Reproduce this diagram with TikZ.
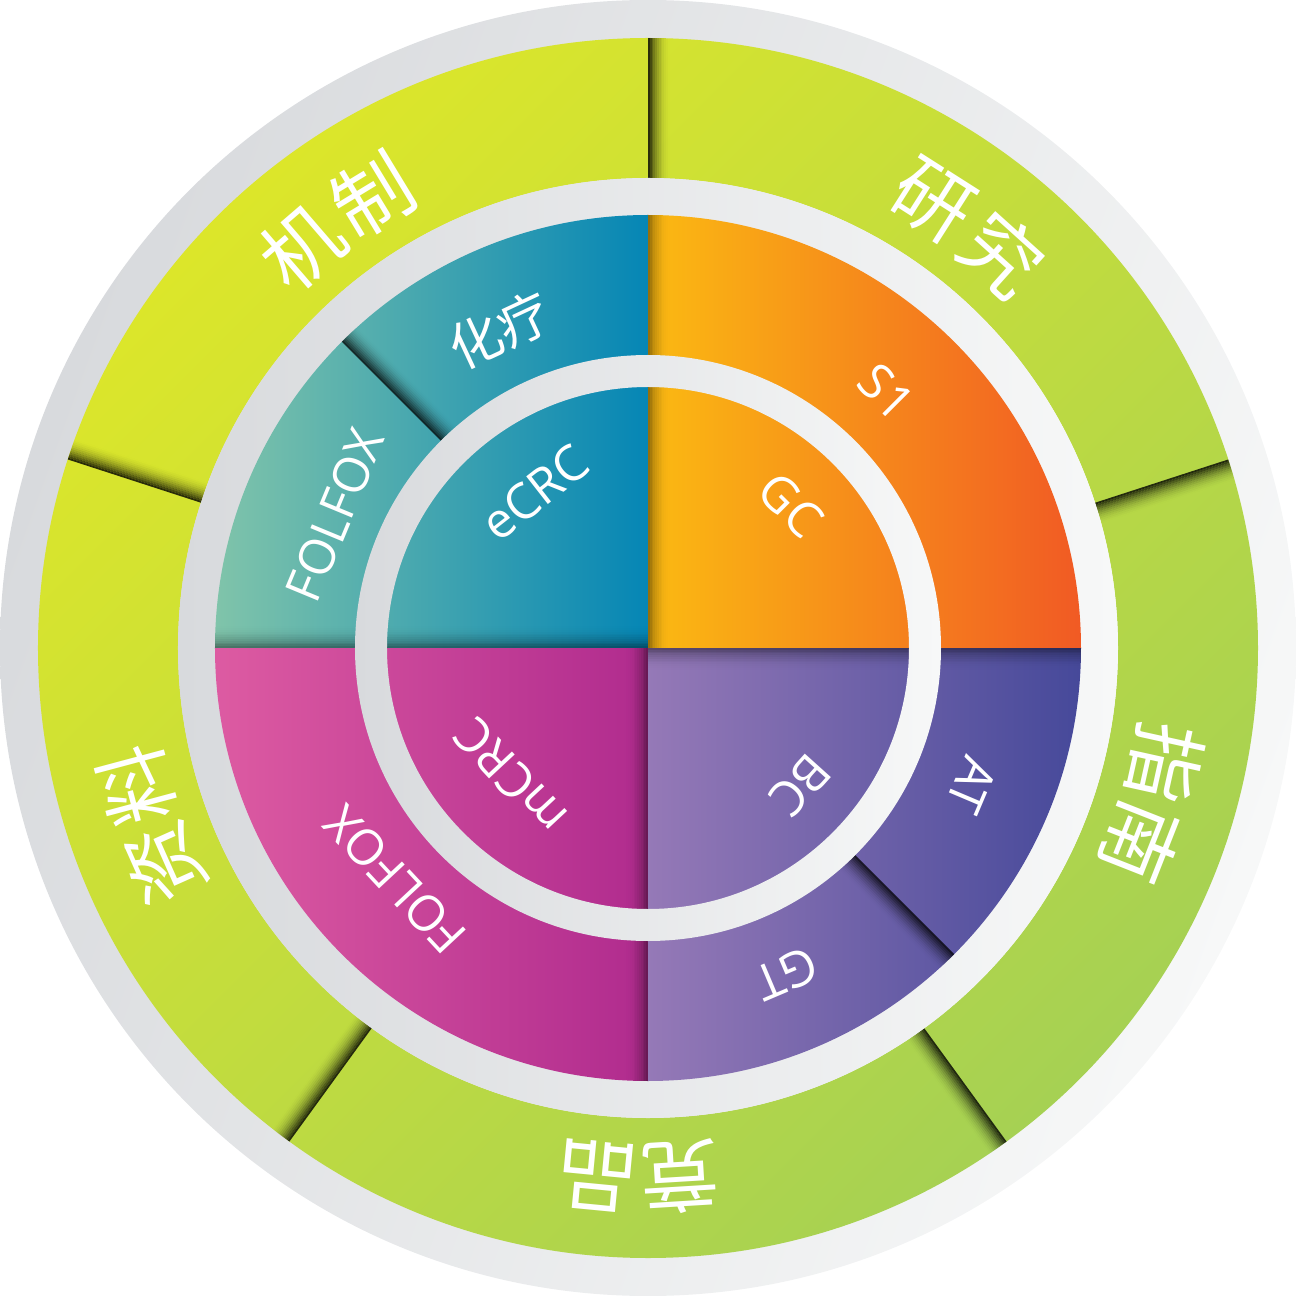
\documentclass[tikz,border=0pt]{standalone}
\usepackage{fontspec}
\setmainfont{Open Sans}
\newfontfamily\cjk{Noto Sans CJK SC}

\definecolor{ringgray}{HTML}{D8DADD}
\definecolor{ringwhite}{HTML}{F7F8F8}
\definecolor{limetop}{HTML}{DCE62A}
\definecolor{limebot}{HTML}{A6D153}
\definecolor{tealleft}{HTML}{80C4AA}
\definecolor{tealright}{HTML}{0586B5}
\definecolor{orangeleft}{HTML}{FBBA12}
\definecolor{orangeright}{HTML}{F15A24}
\definecolor{purpleleft}{HTML}{9579B7}
\definecolor{purpleright}{HTML}{46499A}
\definecolor{pinkleft}{HTML}{DD5BA2}
\definecolor{pinkright}{HTML}{B02B8E}

\tikzset{
    bigword/.style={text=white, inner sep=0pt,
        font=\cjk\fontsize{22.5}{26}\selectfont},
    midword/.style={text=white, inner sep=0pt,
        font=\cjk\fontsize{15}{18}\selectfont},
    smallword/.style={text=white, inner sep=0pt,
        font=\fontsize{14}{17}\selectfont},
}

% dark strip on the clockwise side of a cut: angle, r1, r2, strength
\newcommand{\sepshade}[4]{%
    \begin{scope}[rotate=#1]
        \foreach \k [evaluate=\k as \op using {#4*(1-\k/12)^2}] in {0,...,11}
            \fill[black, opacity=\op]
                (#2,-0.018*\k) rectangle (#3,-0.018*\k-0.018);
    \end{scope}}

\begin{document}
\begin{tikzpicture}
    \useasboundingbox (-6.48,-6.48) rectangle (6.48,6.48);

    %% Outer rim
    \shade[left color=ringgray, right color=ringwhite, shading angle=70]
        (0,0) circle (6.48);

    %% Green ring and its cuts
    \shade[top color=limetop, bottom color=limebot, shading angle=45,
        even odd rule] (0,0) circle (6.10) (0,0) circle (4.70);
    \foreach \a in {90,18,-54,-126,162}
        \sepshade{\a}{4.70}{6.10}{0.8};

    %% Inner rim
    \shade[left color=ringgray, right color=ringwhite]
        (0,0) circle (4.70);

    %% Quadrants
    \shade[left color=orangeleft, right color=orangeright]
        (0,0) -- (0:4.33) arc[start angle=0, end angle=90, radius=4.33] -- cycle;
    \shade[left color=tealleft, right color=tealright]
        (0,0) -- (90:4.33) arc[start angle=90, end angle=180, radius=4.33] -- cycle;
    \shade[left color=pinkleft, right color=pinkright]
        (0,0) -- (180:4.33) arc[start angle=180, end angle=270, radius=4.33] -- cycle;
    \shade[left color=purpleleft, right color=purpleright]
        (0,0) -- (270:4.33) arc[start angle=270, end angle=360, radius=4.33] -- cycle;

    %% Cuts in the quadrants
    \foreach \a in {0,90,180,270}
        \sepshade{\a}{0}{4.33}{0.4};
    \sepshade{135}{2.93}{4.33}{0.75};
    \sepshade{-45}{2.93}{4.33}{0.75};

    %% Middle rim
    \shade[left color=ringgray, right color=ringwhite, even odd rule]
        (0,0) circle (2.93) (0,0) circle (2.61);

    %% Green ring words
    \node[bigword, rotate=40.75]  (jizhi1)   at (130.75:5.30) {机};
    \node[bigword, rotate=31.25]  (jizhi2)   at (121.25:5.30) {制};
    \node[bigword, rotate=-32.5]  (yanjiu1)  at (57.5:5.30)   {研};
    \node[bigword, rotate=-42]    (yanjiu2)  at (48:5.30)     {究};
    \node[bigword, rotate=-102.5] (zhinan1)  at (-12.5:5.30)  {指};
    \node[bigword, rotate=-111.5] (zhinan2)  at (-21.5:5.30)  {南};
    \node[bigword, rotate=-176.5] (jingpin1) at (-86.5:5.30)  {竞};
    \node[bigword, rotate=-185.5] (jingpin2) at (-95.5:5.30)  {品};
    \node[bigword, rotate=114]    (ziliao1)  at (204:5.30)    {资};
    \node[bigword, rotate=105]    (ziliao2)  at (195:5.30)    {料};

    %% Quadrant words
    \node[midword, rotate=25]     (hualiao)  at (115:3.51)    {化疗};
    \node[smallword, rotate=67.5] (folfoxa)  at (157:3.40)    {FOLFOX};
    \node[smallword, rotate=38]   (ecrc)     at (126:1.92)    {eCRC};
    \node[smallword, rotate=-45]  (sone)     at (47:3.50)     {S1};
    \node[smallword, rotate=-45]  (gc)       at (45:2.02)     {GC};
    \node[smallword, rotate=-113] (atlab)    at (-23:3.52)    {AT};
    \node[smallword, rotate=-157] (gtlab)    at (-67:3.54)    {GT};
    \node[smallword, rotate=-132] (bclab)    at (-42:2.05)    {BC};
    \node[smallword, rotate=133]  (folfoxb)  at (222.5:3.43)  {FOLFOX};
    \node[smallword, rotate=133]  (mcrc)     at (223:1.88)    {mCRC};
\end{tikzpicture}
\end{document}
